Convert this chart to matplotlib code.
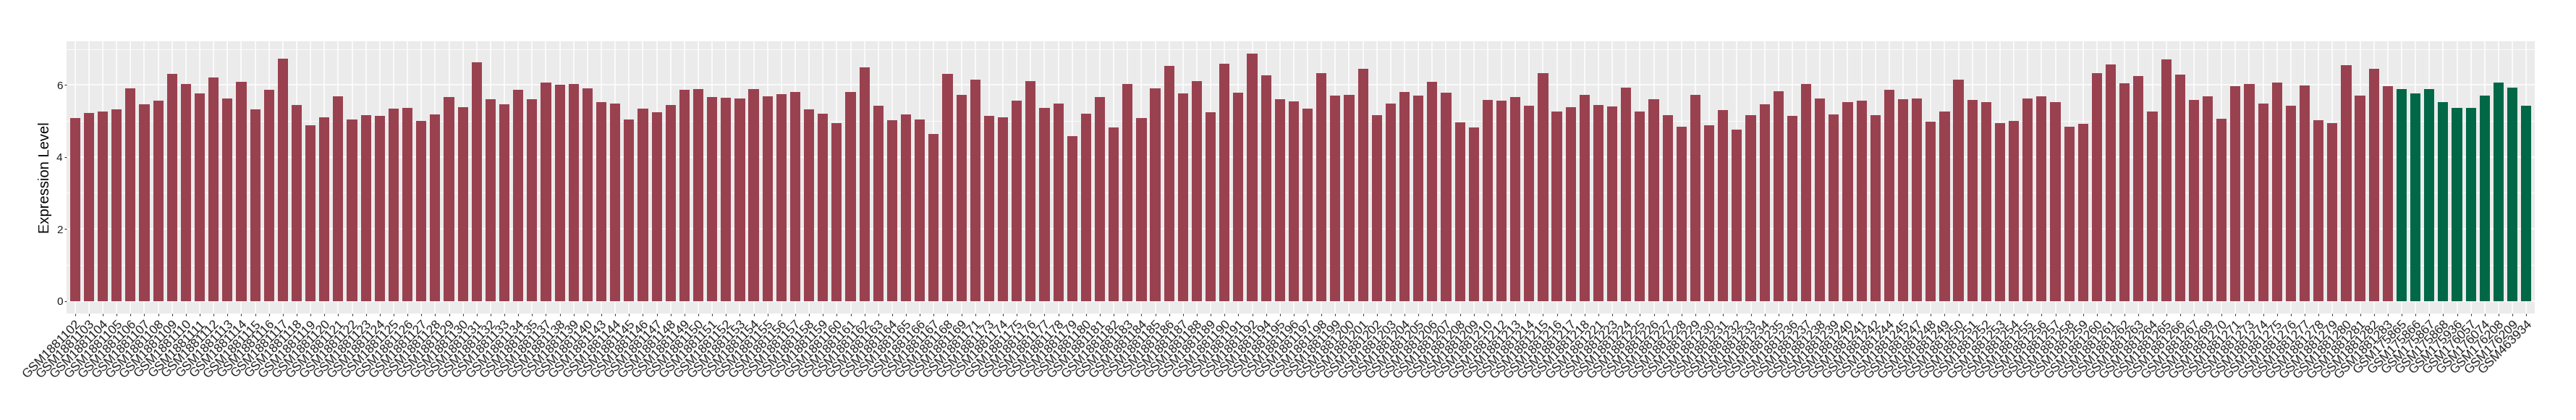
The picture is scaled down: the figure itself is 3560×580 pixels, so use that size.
import matplotlib
matplotlib.use("Agg")
import matplotlib.pyplot as plt
from matplotlib.ticker import MultipleLocator
import numpy as np

plt.rcParams['font.family'] = ['Liberation Sans', 'DejaVu Sans']

# tumour samples (red) then normal samples (green)
tumour_ids = [
    1881102, 1881103, 1881104, 1881105, 1881106, 1881107, 1881108, 1881109, 1881110, 1881111,
    1881112, 1881113, 1881114, 1881115, 1881116, 1881117, 1881118, 1881119, 1881120, 1881121,
    1881122, 1881123, 1881124, 1881125, 1881126, 1881127, 1881128, 1881129, 1881130, 1881131,
    1881132, 1881133, 1881134, 1881135, 1881137, 1881138, 1881139, 1881140, 1881143, 1881144,
    1881145, 1881146, 1881147, 1881148, 1881149, 1881150, 1881151, 1881152, 1881153, 1881154,
    1881155, 1881156, 1881157, 1881158, 1881159, 1881160, 1881161, 1881162, 1881163, 1881164,
    1881165, 1881166, 1881167, 1881168, 1881169, 1881171, 1881173, 1881174, 1881175, 1881176,
    1881177, 1881178, 1881179, 1881180, 1881181, 1881182, 1881183, 1881184, 1881185, 1881186,
    1881187, 1881188, 1881189, 1881190, 1881191, 1881192, 1881194, 1881195, 1881196, 1881197,
    1881198, 1881199, 1881200, 1881201, 1881202, 1881203, 1881204, 1881205, 1881206, 1881207,
    1881208, 1881209, 1881210, 1881212, 1881213, 1881214, 1881215, 1881216, 1881217, 1881218,
    1881221, 1881223, 1881224, 1881225, 1881226, 1881227, 1881228, 1881229, 1881230, 1881231,
    1881232, 1881233, 1881234, 1881235, 1881236, 1881237, 1881238, 1881239, 1881240, 1881241,
    1881242, 1881244, 1881245, 1881247, 1881248, 1881249, 1881250, 1881251, 1881252, 1881253,
    1881254, 1881255, 1881256, 1881257, 1881258, 1881259, 1881260, 1881261, 1881262, 1881263,
    1881264, 1881265, 1881266, 1881267, 1881269, 1881270, 1881271, 1881273, 1881274, 1881275,
    1881276, 1881277, 1881278, 1881279, 1881280, 1881281, 1881282, 1881283,
]
tumour_values = [
    5.08, 5.22, 5.26, 5.32, 5.90, 5.47, 5.56, 6.30, 6.02, 5.76,
    6.21, 5.62, 6.09, 5.32, 5.87, 6.73, 5.44, 4.88, 5.10, 5.68,
    5.04, 5.16, 5.14, 5.34, 5.36, 5.00, 5.18, 5.67, 5.38, 6.63,
    5.61, 5.47, 5.87, 5.61, 6.07, 6.01, 6.02, 5.90, 5.52, 5.48,
    5.04, 5.34, 5.24, 5.44, 5.87, 5.88, 5.67, 5.64, 5.62, 5.88,
    5.68, 5.75, 5.81, 5.32, 5.21, 4.94, 5.81, 6.49, 5.42, 5.02,
    5.18, 5.04, 4.64, 6.30, 5.73, 6.15, 5.14, 5.10, 5.56, 6.10,
    5.36, 5.48, 4.58, 5.21, 5.67, 4.82, 6.02, 5.08, 5.90, 6.53,
    5.76, 6.10, 5.24, 6.59, 5.78, 6.87, 6.27, 5.61, 5.55, 5.34,
    6.33, 5.70, 5.73, 6.45, 5.16, 5.48, 5.81, 5.70, 6.09, 5.78,
    4.96, 4.82, 5.58, 5.56, 5.67, 5.42, 6.33, 5.26, 5.38, 5.73,
    5.44, 5.41, 5.93, 5.26, 5.61, 5.16, 4.84, 5.73, 4.88, 5.30,
    4.76, 5.16, 5.47, 5.82, 5.14, 6.02, 5.62, 5.18, 5.52, 5.56,
    5.16, 5.87, 5.61, 5.62, 4.98, 5.26, 6.15, 5.58, 5.52, 4.94,
    5.00, 5.62, 5.68, 5.52, 4.84, 4.92, 6.33, 6.56, 6.04, 6.24,
    5.26, 6.71, 6.29, 5.58, 5.68, 5.06, 5.96, 6.02, 5.48, 6.07,
    5.42, 5.99, 5.02, 4.94, 6.55, 5.70, 6.45, 5.96,
]

normal_ids = [175865, 175866, 175867, 175868, 175936, 176057, 176074, 176208, 176209, 463934]
normal_values = [5.88, 5.76, 5.88, 5.52, 5.36, 5.36, 5.70, 6.07, 5.93, 5.42]

tumour_color = '#9A4150'
normal_color = '#006847'

labels = ["GSM%d" % s for s in tumour_ids + normal_ids]
values = tumour_values + normal_values
colors = [tumour_color] * len(tumour_values) + [normal_color] * len(normal_values)
x = np.arange(len(values))

fig = plt.figure(figsize=(35.6, 5.8), dpi=100)
ax = fig.add_axes([0.02593, 0.2529, 0.95798, 0.6495])
ax.set_facecolor('#EBEBEB')

ax.bar(x, values, width=0.74, color=colors, zorder=3)

ax.set_xlim(-0.6, len(values) - 1 + 0.6)
ax.set_ylim(-0.354, 7.22)
ax.yaxis.set_major_locator(MultipleLocator(2))
ax.yaxis.set_minor_locator(MultipleLocator(1))
ax.set_xticks(x)
ax.set_xticklabels(labels, rotation=45, ha='right', va='top',
                   rotation_mode='anchor', fontsize=12.5, color='#1a1a1a')

ax.grid(which='major', color='white', linewidth=1.1, zorder=0)
ax.grid(which='minor', axis='y', color='white', linewidth=0.6, zorder=0)
ax.set_axisbelow(True)
for sp in ax.spines.values():
    sp.set_visible(False)

ax.tick_params(axis='both', which='major', length=2.2, width=0.8, color='#333333')
ax.tick_params(axis='y', which='major', labelsize=11, labelcolor='#1a1a1a', pad=2)
ax.tick_params(axis='x', which='major', pad=2.5)
ax.tick_params(axis='y', which='minor', length=0)

ax.set_ylabel("Expression Level", fontsize=14.5, labelpad=4)

fig.savefig("out.png", dpi=100, facecolor='white')
